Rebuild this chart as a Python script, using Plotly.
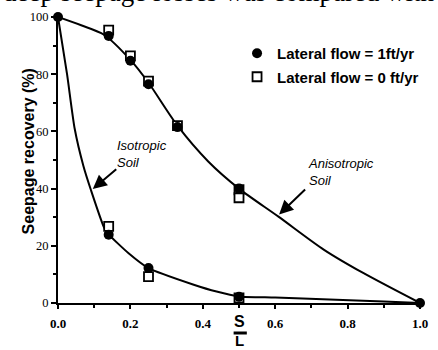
import plotly.graph_objects as go

# ---- data ----
aniso_curve_x = [0, 0.064, 0.127, 0.2, 0.25, 0.33, 0.415, 0.5, 0.609, 0.735, 0.843, 1.0]
aniso_curve_y = [100, 97.1, 93.8, 85.0, 77.0, 62.0, 49.5, 40.0, 30.2, 18.6, 10.5, 0]

iso_curve_x = [0, 0.025, 0.046, 0.07, 0.091, 0.127, 0.14, 0.195, 0.25, 0.375, 0.438, 0.5, 0.6, 0.75, 0.9, 1.0]
iso_curve_y = [100, 80, 61, 48, 39.5, 26.5, 24.0, 17.4, 12.2, 6.4, 4.0, 2.3, 1.9, 1.2, 0.5, 0]

flow1_aniso_x = [0, 0.14, 0.2, 0.25, 0.33, 0.5, 1.0]
flow1_aniso_y = [100, 93.4, 84.7, 76.5, 61.5, 40.0, 0]
flow1_iso_x = [0.14, 0.25, 0.5]
flow1_iso_y = [23.9, 12.2, 2.2]

flow0_aniso_x = [0.14, 0.2, 0.25, 0.33, 0.5, 0.5]
flow0_aniso_y = [95.4, 86.4, 77.6, 62.0, 39.6, 36.8]
flow0_iso_x = [0.14, 0.25, 0.5]
flow0_iso_y = [26.8, 9.2, 1.8]

x_ticks = [0.0, 0.2, 0.4, 0.6, 0.8, 1.0]
x_tick_labels = ["0.0", "0.2", "0.4", "0.6", "0.8", "1.0"]
y_ticks = [0, 20, 40, 60, 80, 100]

fig = go.Figure()

fig.add_trace(go.Scatter(x=aniso_curve_x, y=aniso_curve_y, mode="lines",
                         line=dict(color="black", width=2, shape="spline", smoothing=0.8),
                         showlegend=False, hoverinfo="skip", cliponaxis=False))
fig.add_trace(go.Scatter(x=iso_curve_x, y=iso_curve_y, mode="lines",
                         line=dict(color="black", width=2, shape="spline", smoothing=0.6),
                         showlegend=False, hoverinfo="skip", cliponaxis=False))

fig.add_trace(go.Scatter(x=flow0_aniso_x + flow0_iso_x, y=flow0_aniso_y + flow0_iso_y,
                         mode="markers", name="Lateral flow = 0 ft/yr",
                         marker=dict(symbol="square", size=9, color="white",
                                     line=dict(color="black", width=1.8)),
                         legendgroup="b", legendrank=2, cliponaxis=False))
fig.add_trace(go.Scatter(x=flow1_aniso_x + flow1_iso_x, y=flow1_aniso_y + flow1_iso_y,
                         mode="markers", name="Lateral flow = 1ft/yr",
                         marker=dict(symbol="circle", size=10, color="black",
                                     line=dict(color="black", width=0)),
                         legendgroup="a", legendrank=1, cliponaxis=False))

L, R, T, B = 58, 10, 17, 47
W, H = 438, 350
pw = W - L - R
ph = H - T - B


def px_x(px):
    return (px - L) / pw


def px_y(py):
    return (H - B - py) / ph


fig.update_layout(
    width=W, height=H,
    margin=dict(l=L, r=R, t=T, b=B),
    plot_bgcolor="white", paper_bgcolor="white",
    font=dict(family="Liberation Sans", color="black"),
    showlegend=True,
    legend=dict(x=px_x(241), y=px_y(37), xanchor="left", yanchor="top",
                font=dict(family="Liberation Sans", size=15, weight="bold", color="black"),
                bgcolor="rgba(0,0,0,0)", traceorder="grouped", tracegroupgap=1,
                itemclick=False),
    xaxis=dict(range=[0, 1], showline=True, linewidth=2, linecolor="black",
               tickmode="array", tickvals=x_ticks, ticktext=x_tick_labels,
               ticks="outside", ticklen=4, tickwidth=1.5, tickcolor="black",
               minor=dict(dtick=0.1, ticks="outside", ticklen=3, tickwidth=1.5, tickcolor="black"),
               showgrid=False, zeroline=False, ticklabelstandoff=3,
               tickfont=dict(family="Liberation Serif", size=13, weight="bold", color="black")),
    yaxis=dict(range=[0, 100], showline=True, linewidth=2, linecolor="black",
               tickmode="array", tickvals=y_ticks,
               ticks="outside", ticklen=5, tickwidth=1.5, tickcolor="black",
               minor=dict(dtick=10, ticks="outside", ticklen=3, tickwidth=1.5, tickcolor="black"),
               showgrid=False, zeroline=False,
               tickfont=dict(family="Liberation Serif", size=12.5, color="black")),
)

# y-axis title
fig.add_annotation(text="<b>Seepage recovery (%)</b>", xref="paper", yref="paper",
                   x=px_x(17), y=px_y(151), textangle=-90, showarrow=False,
                   font=dict(family="Liberation Sans", size=16, color="black"))
# x-axis title S / L
fig.add_annotation(text="<b>S</b>", xref="x", yref="paper", x=0.5, y=px_y(321),
                   showarrow=False, yanchor="middle",
                   font=dict(family="Liberation Sans", size=16, color="black"))
fig.add_annotation(text="<b>L</b>", xref="x", yref="paper", x=0.5, y=px_y(340.5),
                   showarrow=False, yanchor="middle",
                   font=dict(family="Liberation Sans", size=15, color="black"))
fig.add_shape(type="line", xref="paper", yref="paper",
              x0=px_x(237.5), x1=px_x(251), y0=px_y(333), y1=px_y(333),
              line=dict(color="black", width=3))

# curve labels
fig.add_annotation(text="<i>Isotropic<br>Soil</i>", xref="paper", yref="paper",
                   x=px_x(116), y=px_y(154), xanchor="left", yanchor="middle", align="left",
                   showarrow=False, font=dict(family="Liberation Sans", size=13, color="black"))
fig.add_annotation(text="<i>Anisotropic<br>Soil</i>", xref="paper", yref="paper",
                   x=px_x(311), y=px_y(172), xanchor="left", yanchor="middle", align="left",
                   showarrow=False, font=dict(family="Liberation Sans", size=13, color="black"))

# arrows (tip position, tail offset in pixels)
fig.add_annotation(x=px_x(93.5), y=px_y(189), xref="paper", yref="paper",
                   ax=25, ay=-21, axref="pixel", ayref="pixel",
                   text="", showarrow=True, arrowhead=2, arrowsize=1.4, arrowwidth=2,
                   arrowcolor="black")
fig.add_annotation(x=px_x(284), y=px_y(214.5), xref="paper", yref="paper",
                   ax=27.5, ay=-26.5, axref="pixel", ayref="pixel",
                   text="", showarrow=True, arrowhead=2, arrowsize=1.4, arrowwidth=2,
                   arrowcolor="black")

# cut-off page text above the figure
fig.add_annotation(text="deep seepage losses was compared with", xref="paper", yref="paper",
                   x=px_x(0), y=px_y(-8), xanchor="left", yanchor="middle",
                   showarrow=False, font=dict(family="Liberation Serif", size=27, color="black"))

fig.write_html("out.html", config={"displayModeBar": False},
               post_script="document.body.style.margin='0';")
